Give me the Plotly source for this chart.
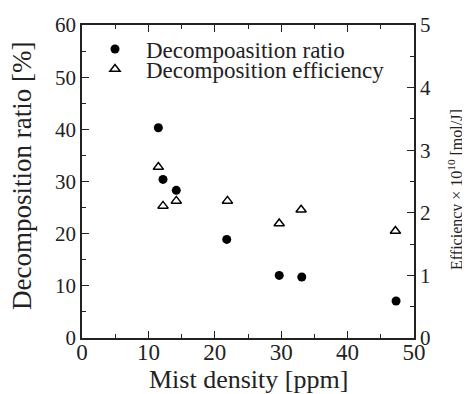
import plotly.graph_objects as go

mist_ratio = [11.5, 12.2, 14.2, 21.8, 29.7, 33.1, 47.3]
ratio = [40.3, 30.4, 28.3, 18.9, 12.0, 11.7, 7.1]

mist_eff = [11.5, 12.2, 14.2, 21.9, 29.7, 33.0, 47.2]
efficiency = [2.73, 2.11, 2.19, 2.19, 1.83, 2.05, 1.71]

x_title = "Mist density [ppm]"
y_title = "Decomposition ratio [%]"
y2_title = "Efficiency × 10<sup>10</sup> [mol/J]"

FONT = "Liberation Serif"
COL = "#222222"

fig = go.Figure()
fig.add_trace(go.Scatter(
    x=mist_ratio, y=ratio, mode="markers", name="Decompoasition ratio",
    marker=dict(symbol="circle", size=9, color="black"), legend="legend",
))
fig.add_trace(go.Scatter(
    x=mist_eff, y=efficiency, mode="markers", name="Decomposition efficiency",
    marker=dict(symbol="triangle-up-open", size=9, color="black", line=dict(width=1.5)),
    yaxis="y2", legend="legend2",
))

def axis_common(size):
    return dict(
        showline=True, linecolor=COL, linewidth=1.5,
        ticks="inside", ticklen=7, tickwidth=1.2, tickcolor=COL,
        showgrid=False, zeroline=False, automargin=False,
        tickfont=dict(family=FONT, size=size, color=COL),
    )

leg_common = dict(
    xanchor="left", yanchor="middle",
    bgcolor="rgba(0,0,0,0)", font=dict(family=FONT, size=23, color=COL),
    itemwidth=52, borderwidth=0,
)

# page body has an 8px margin; figure is sized so it fits the 470x394 window
fig.update_layout(
    width=462, height=386,
    margin=dict(l=74, r=56, t=17, b=56),
    paper_bgcolor="white", plot_bgcolor="white",
    font=dict(family=FONT, color=COL),
    showlegend=True,
    legend=dict(**leg_common, x=0.006, y=0.923),
    legend2=dict(**leg_common, x=0.006, y=0.859),
    xaxis=dict(
        **axis_common(23), range=[0, 50], dtick=10, mirror="ticks",
        ticklabelstandoff=-7,
        minor=dict(dtick=5, ticks="inside", ticklen=4, tickcolor=COL),
    ),
    yaxis=dict(
        **axis_common(21), range=[0, 60], dtick=10,
        minor=dict(dtick=5, ticks="inside", ticklen=4, tickcolor=COL),
    ),
    yaxis2=dict(
        **axis_common(21), range=[0, 5], dtick=1, overlaying="y", side="right",
        minor=dict(dtick=0.5, ticks="inside", ticklen=4, tickcolor=COL),
    ),
    annotations=[
        dict(text=x_title, xref="paper", yref="paper", x=(248 - 82) / 332, y=-(379 - 338) / 313,
             xanchor="center", yanchor="middle", showarrow=False,
             font=dict(family=FONT, size=26, color=COL)),
        dict(text=y_title, xref="paper", yref="paper", x=(22 - 82) / 332, y=(338 - 176) / 313,
             xanchor="center", yanchor="middle", showarrow=False, textangle=-90,
             font=dict(family=FONT, size=27, color=COL)),
        dict(text=y2_title, xref="paper", yref="paper", x=(455 - 82) / 332, y=(338 - 190) / 313,
             xanchor="center", yanchor="middle", showarrow=False, textangle=-90,
             font=dict(family=FONT, size=16, color=COL)),
    ],
)

fig.write_html("out.html")
